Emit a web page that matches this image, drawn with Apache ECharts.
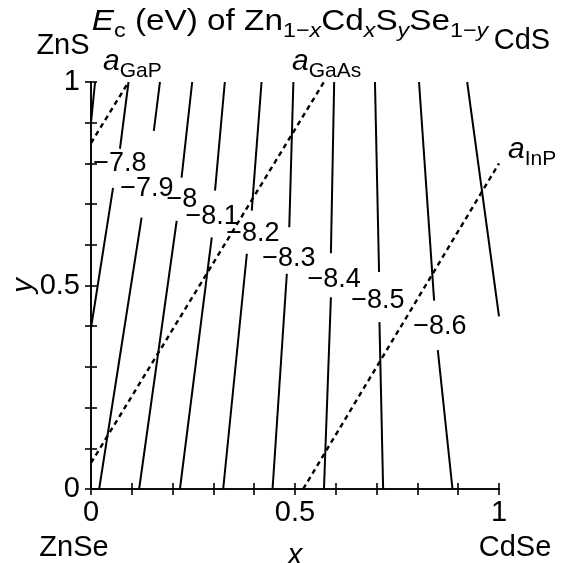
<!DOCTYPE html>
<html>
<head>
<meta charset="utf-8">
<script src="https://cdn.jsdelivr.net/npm/echarts@6/dist/echarts.min.js"></script>
<style>
  html, body { margin: 0; padding: 0; background: #fff; }
  #chart { width: 561px; height: 563px; }
</style>
</head>
<body>
<div id="chart"></div>
<script>
// Conduction-band edge Ec (eV) of Zn(1-x)Cd(x)S(y)Se(1-y): iso-energy lines over (x, y)

const tickLabels = [0, 0.5, 1];

// Contour levels (eV), each drawn as one or two segments (gap where the label sits)
const contourLevels = [-7.7, -7.8, -7.9, -8.0, -8.1, -8.2, -8.3, -8.4, -8.5, -8.6, -8.7];
const contourUpper = [
  [[0.010, 1], [0, 0.900]],
  [[0.092, 1], [0.071, 0.836]],
  [[0.169, 1], [0.154, 0.880]],
  [[0.248, 1], [0.222, 0.765]],
  [[0.328, 1], [0.304, 0.733]],
  [[0.418, 1], [0.394, 0.684]],
  [[0.496, 1], [0.486, 0.643]],
  [[0.596, 1], [0.588, 0.579]],
  [[0.696, 1], [0.706, 0.533]],
  [[0.804, 1], [0.841, 0.463]],
  [[0.922, 1], [1, 0.424]]
];
const contourLower = [
  null,
  [[0.054, 0.740], [0, 0.395]],
  [[0.124, 0.667], [0.020, 0]],
  [[0.210, 0.659], [0.118, 0]],
  [[0.296, 0.618], [0.218, 0]],
  [[0.382, 0.578], [0.324, 0]],
  [[0.480, 0.529], [0.445, 0]],
  [[0.588, 0.471], [0.571, 0]],
  [[0.707, 0.410], [0.716, 0]],
  [[0.850, 0.341], [0.886, 0]],
  null
];

// Contour labels
const labelLevels = [-7.8, -7.9, -8.0, -8.1, -8.2, -8.3, -8.4, -8.5, -8.6];
const labelX = [0.071, 0.137, 0.223, 0.297, 0.397, 0.485, 0.596, 0.703, 0.855];
const labelY = [0.799, 0.738, 0.711, 0.669, 0.627, 0.566, 0.515, 0.463, 0.400];

// Lattice-matching lines to GaP, GaAs and InP substrates
const latticeGaP = [[0, 0.850], [0.092, 1]];
const latticeGaAs = [[0, 0.064], [0.571, 1]];
const latticeInP = [[0.520, 0], [1, 0.800]];

const FONT = '"Liberation Sans", Arial, Helvetica, sans-serif';
const INK = '#000';

function fmtLevel(v) {
  const s = String(Math.round(Math.abs(v) * 10) / 10);
  return (v < 0 ? '\u2212' : '') + s;
}
function tickFmt(v) {
  for (const t of tickLabels) {
    if (Math.abs(v - t) < 1e-9) return String(t);
  }
  return '';
}

const axisLine = { show: true, lineStyle: { color: INK, width: 1.6 } };
const axisTick = { show: true, inside: true, length: 6, lineStyle: { color: INK, width: 1.6 } };
const labelStyle = { fontSize: 29, color: INK, fontFamily: FONT };

const series = [];
function addSegment(seg, dashed) {
  series.push({
    type: 'line',
    data: seg,
    symbol: 'none',
    silent: true,
    animation: false,
    z: dashed ? 3 : 2,
    lineStyle: dashed
      ? { color: INK, width: 2.4, type: [5, 4] }
      : { color: INK, width: 2 }
  });
}
contourLevels.forEach((lv, i) => {
  if (contourUpper[i]) addSegment(contourUpper[i], false);
  if (contourLower[i]) addSegment(contourLower[i], false);
});
[latticeGaP, latticeGaAs, latticeInP].forEach(l => addSegment(l, true));

series.push({
  type: 'scatter',
  data: labelX.map((x, i) => [x, labelY[i], labelLevels[i]]),
  symbolSize: 0,
  silent: true,
  animation: false,
  z: 5,
  itemStyle: { opacity: 1 },
  label: {
    show: true,
    position: 'inside',
    formatter: p => fmtLevel(p.value[2]),
    fontSize: 27,
    color: INK,
    opacity: 1,
    textBorderWidth: 0,
    fontFamily: FONT
  }
});

const subStyle = { fontSize: 21, lineHeight: 18, verticalAlign: 'bottom', fontFamily: FONT, color: INK };
const subItal = Object.assign({}, subStyle, { fontStyle: 'italic' });
const mainItal = { fontSize: 30, lineHeight: 40, fontStyle: 'italic', fontFamily: FONT, color: INK };

function txt(text, x, y, align, extra) {
  return {
    type: 'text', x: x, y: y, silent: true,
    style: Object.assign({
      text: text, fill: INK, font: '29px ' + FONT,
      align: align || 'center', verticalAlign: 'middle'
    }, extra || {})
  };
}
const richStyle = {
  font: '30px ' + FONT,
  lineHeight: 40,
  rich: { i: mainItal, s: subStyle, si: subItal }
};
const titleText = '{i|E}{s|c} (eV) of Zn{s|1\u2212}{si|x}Cd{si|x}S{si|y}Se{s|1\u2212}{si|y}';

const chart = echarts.init(document.getElementById('chart'), null, { renderer: 'canvas' });
chart.setOption({
  animation: false,
  backgroundColor: '#fff',
  grid: { left: 91, right: 62, top: 82, bottom: 74, outerBoundsMode: 'none', containLabel: false },
  xAxis: [
    {
      type: 'value', min: 0, max: 1, interval: 0.1, position: 'bottom',
      axisLine: axisLine, axisTick: axisTick, splitLine: { show: false },
      axisLabel: Object.assign({ formatter: tickFmt, margin: 9 }, labelStyle),
      name: 'x', nameLocation: 'middle', nameGap: 52,
      nameTextStyle: Object.assign({ fontStyle: 'italic' }, labelStyle)
    },
    {
      type: 'value', min: 0, max: 1, interval: 0.1, position: 'top',
      axisLine: axisLine, axisTick: axisTick, splitLine: { show: false },
      axisLabel: { show: false }
    }
  ],
  yAxis: [
    {
      type: 'value', min: 0, max: 1, interval: 0.1, position: 'left',
      axisLine: axisLine, axisTick: axisTick, splitLine: { show: false },
      axisLabel: Object.assign({ formatter: tickFmt, margin: 11 }, labelStyle),
      name: 'y', nameLocation: 'middle', nameGap: 53, nameRotate: 90,
      nameMoveOverlap: false,
      nameTextStyle: Object.assign({ fontStyle: 'italic' }, labelStyle)
    },
    {
      type: 'value', min: 0, max: 1, interval: 0.1, position: 'right',
      axisLine: axisLine, axisTick: axisTick, splitLine: { show: false },
      axisLabel: { show: false }
    }
  ],
  graphic: [
    Object.assign(txt(titleText, 290, 22, 'center', richStyle), { scaleX: 1.11 }),
    txt('ZnS', 63, 46),
    txt('CdS', 522, 41),
    txt('ZnSe', 74, 548),
    txt('CdSe', 515, 548),
    txt('{i|a}{s|GaP}', 103, 62, 'left', richStyle),
    txt('{i|a}{s|GaAs}', 292, 62, 'left', richStyle),
    txt('{i|a}{s|InP}', 508, 150, 'left', richStyle)
  ],
  series: series
});
</script>
</body>
</html>
